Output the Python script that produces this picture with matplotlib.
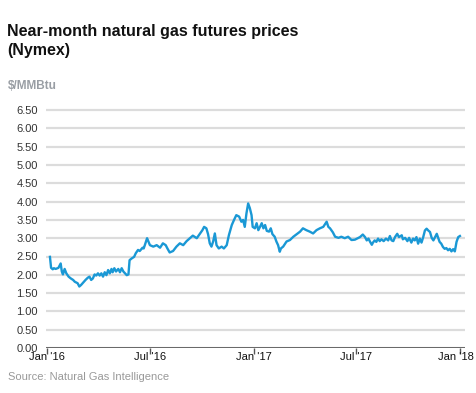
import numpy as np
import matplotlib
matplotlib.use("Agg")
import matplotlib.pyplot as plt
import matplotlib.dates as mdates
from matplotlib.transforms import ScaledTranslation

plt.rcParams['font.family'] = ['Liberation Sans', 'DejaVu Sans']

title_lines = ["Near-month natural gas futures prices", "(Nymex)"]
unit_label = "$/MMBtu"
source_text = "Source: Natural Gas Intelligence"

dates = [
    "2016-01-06", "2016-01-08", "2016-01-11", "2016-01-13", "2016-01-16", "2016-01-21",
    "2016-01-25", "2016-01-27", "2016-01-29", "2016-02-01", "2016-02-04", "2016-02-08",
    "2016-02-12", "2016-02-16", "2016-02-19", "2016-02-24", "2016-02-27", "2016-03-01",
    "2016-03-05", "2016-03-09", "2016-03-13", "2016-03-16", "2016-03-19", "2016-03-22",
    "2016-03-25", "2016-03-28", "2016-03-31", "2016-04-03", "2016-04-06", "2016-04-09",
    "2016-04-12", "2016-04-15", "2016-04-18", "2016-04-21", "2016-04-24", "2016-04-26",
    "2016-04-29", "2016-05-02", "2016-05-06", "2016-05-09", "2016-05-12", "2016-05-15",
    "2016-05-18", "2016-05-21", "2016-05-24", "2016-05-26", "2016-05-30", "2016-06-03",
    "2016-06-06", "2016-06-10", "2016-06-13", "2016-06-18", "2016-06-20", "2016-06-22",
    "2016-06-26", "2016-07-01",
    "2016-07-07", "2016-07-13", "2016-07-19", "2016-07-24", "2016-07-29", "2016-08-01",
    "2016-08-05", "2016-08-11", "2016-08-17", "2016-08-23", "2016-08-29", "2016-09-04",
    "2016-09-10", "2016-09-15", "2016-09-22", "2016-09-27", "2016-10-02", "2016-10-05",
    "2016-10-09", "2016-10-12", "2016-10-15", "2016-10-18", "2016-10-21", "2016-10-24",
    "2016-10-27", "2016-10-31", "2016-11-05", "2016-11-09", "2016-11-14", "2016-11-18",
    "2016-11-23", "2016-11-27", "2016-12-01", "2016-12-06", "2016-12-10", "2016-12-13",
    "2016-12-16", "2016-12-19", "2016-12-22", "2016-12-25", "2016-12-28", "2016-12-30",
    "2017-01-03", "2017-01-06", "2017-01-09", "2017-01-12", "2017-01-15", "2017-01-18",
    "2017-01-21", "2017-01-24", "2017-01-28", "2017-01-31", "2017-02-03", "2017-02-07",
    "2017-02-10", "2017-02-13", "2017-02-16", "2017-02-18", "2017-02-22", "2017-02-28",
    "2017-03-06", "2017-03-12", "2017-03-18", "2017-03-24", "2017-03-29", "2017-04-04",
    "2017-04-10", "2017-04-16", "2017-04-22", "2017-04-28", "2017-05-04", "2017-05-10",
    "2017-05-13", "2017-05-16", "2017-05-21", "2017-05-25", "2017-05-31", "2017-06-05",
    "2017-06-11", "2017-06-17", "2017-06-23", "2017-06-29",
    "2017-07-08", "2017-07-13", "2017-07-17", "2017-07-20", "2017-07-23", "2017-07-26",
    "2017-07-29", "2017-07-31", "2017-08-03", "2017-08-06", "2017-08-09", "2017-08-12",
    "2017-08-15", "2017-08-19", "2017-08-23", "2017-08-27", "2017-08-30", "2017-09-02",
    "2017-09-05", "2017-09-08", "2017-09-12", "2017-09-15", "2017-09-20", "2017-09-22",
    "2017-09-26", "2017-09-30", "2017-10-03", "2017-10-07", "2017-10-10", "2017-10-13",
    "2017-10-16", "2017-10-19", "2017-10-22", "2017-10-25", "2017-10-28", "2017-10-31",
    "2017-11-03", "2017-11-06", "2017-11-09", "2017-11-12", "2017-11-15", "2017-11-18",
    "2017-11-21", "2017-11-23", "2017-11-26", "2017-11-29", "2017-12-02", "2017-12-05",
    "2017-12-08", "2017-12-11", "2017-12-14", "2017-12-17", "2017-12-20", "2017-12-23",
    "2017-12-26", "2017-12-29", "2018-01-01",
]

prices = [
    2.49, 2.19, 2.15, 2.18, 2.16, 2.19,
    2.31, 2.09, 2.01, 2.16, 2.04, 1.95,
    1.90, 1.86, 1.81, 1.77, 1.68, 1.72,
    1.79, 1.86, 1.92, 1.95, 1.86, 1.90,
    2.01, 1.98, 2.04, 1.98, 2.04, 1.95,
    2.07, 1.99, 2.13, 2.04, 2.16, 2.07,
    2.18, 2.09, 2.16, 2.07, 2.18, 2.09,
    2.04, 1.99, 2.01, 2.40, 2.45, 2.49,
    2.59, 2.68, 2.65, 2.74, 2.72, 2.81,
    3.00, 2.81,
    2.77, 2.81, 2.74, 2.86, 2.81, 2.72,
    2.61, 2.65, 2.77, 2.86, 2.81, 2.92,
    3.00, 3.07, 3.00, 3.11, 3.22, 3.31,
    3.27, 3.11, 2.86, 2.77, 2.91, 3.13,
    2.81, 2.72, 2.77, 2.72, 2.81, 3.09,
    3.36, 3.50, 3.63, 3.59, 3.45, 3.50,
    3.31, 3.68, 3.95, 3.82, 3.63, 3.31,
    3.27, 3.41, 3.22, 3.31, 3.41, 3.27,
    3.36, 3.20, 3.18, 3.27, 3.11, 3.04,
    2.91, 2.81, 2.63, 2.72, 2.77, 2.91,
    2.95, 3.04, 3.11, 3.18, 3.27, 3.22,
    3.18, 3.13, 3.22, 3.27, 3.31, 3.45,
    3.31, 3.27, 3.16, 3.04, 3.01, 3.04,
    3.00, 3.04, 2.95, 2.96,
    3.03, 3.10, 3.03, 2.94, 2.99, 2.90,
    2.82, 2.88, 2.94, 2.90, 2.99, 2.92,
    2.97, 2.92, 2.99, 2.94, 3.06, 2.94,
    2.92, 3.03, 3.12, 3.03, 3.08, 2.97,
    3.01, 2.92, 3.01, 2.88, 2.99, 2.94,
    3.03, 2.85, 2.99, 2.88, 3.03, 3.21,
    3.26, 3.21, 3.17, 3.01, 2.94, 3.03,
    3.12, 3.03, 2.90, 2.85, 2.76, 2.71,
    2.73, 2.67, 2.71, 2.64, 2.70, 2.64,
    2.90, 3.03, 3.06,
]

y_ticks = [0.0, 0.5, 1.0, 1.5, 2.0, 2.5, 3.0, 3.5, 4.0, 4.5, 5.0, 5.5, 6.0, 6.5]
x_tick_dates = ["2016-01-01", "2016-07-01", "2017-01-01", "2017-07-01", "2018-01-01"]
x_tick_labels = ["Jan '16", "Jul '16", "Jan '17", "Jul '17", "Jan '18"]

W, H = 477, 393
fig = plt.figure(figsize=(W / 100, H / 100), dpi=100)
fig.patch.set_facecolor("white")

ax = fig.add_axes([46 / W, 45 / H, (465 - 46) / W, 6.6 * 36.6 / H])

x = mdates.date2num(np.array(dates, dtype="datetime64[D]"))
ax.plot(x, prices, color="#1a98d5", lw=1.7, solid_joinstyle="round", zorder=3)

for v in y_ticks[1:]:
    ax.axhline(v, color="#dcdcdc", lw=1.6, zorder=1)
ax.axhline(0, color="#6a6a6a", lw=2.2, zorder=2)

x0 = mdates.date2num(np.datetime64("2016-01-01"))
ax.set_xlim(x0 - 2.0, x0 + 740.0)
ax.set_ylim(0, 6.6)

for s in ax.spines.values():
    s.set_visible(False)

ax.set_yticks(y_ticks)
ax.set_yticklabels([f"{v:.2f}" for v in y_ticks])
ax.tick_params(axis="y", length=0, pad=6, labelsize=8, labelcolor="#333333")

xt = mdates.date2num(np.array(x_tick_dates, dtype="datetime64[D]"))
ax.set_xticks(xt)
ax.set_xticklabels(x_tick_labels)
ax.tick_params(axis="x", length=4, width=1, color="#555555", pad=-1,
               labelsize=8, labelcolor="#111111")
# keep the last label inside the chart, as in the original
last = ax.get_xticklabels()[-1]
last.set_transform(last.get_transform() + ScaledTranslation(-4 / 100, 0, fig.dpi_scale_trans))

fig.text(7 / W, 1 - 36 / H, title_lines[0], fontsize=11.5, fontweight="bold",
         color="#111111", va="baseline", ha="left")
fig.text(7 / W, 1 - 55 / H, title_lines[1], fontsize=11.5, fontweight="bold",
         color="#111111", va="baseline", ha="left")
fig.text(8 / W, 1 - 86 / H, unit_label, fontsize=8.5, fontweight="bold",
         color="#999ea4", va="center", ha="left")
fig.text(8 / W, 1 - 377 / H, source_text, fontsize=8,
         color="#999999", va="center", ha="left")

fig.savefig("out.png", dpi=100, facecolor="white")
